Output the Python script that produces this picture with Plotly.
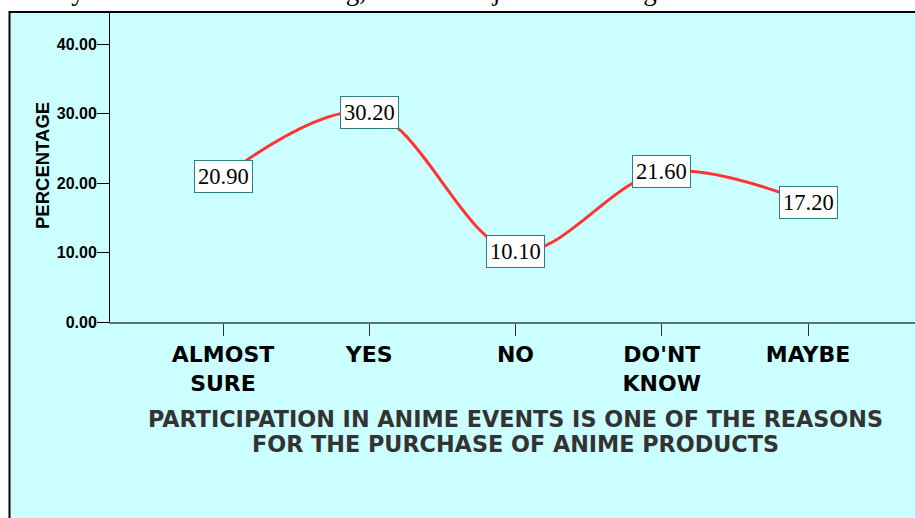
import plotly.graph_objects as go

categories = ["ALMOST<br>SURE", "YES", "NO", "DO'NT<br>KNOW", "MAYBE"]
percentages = [20.90, 30.20, 10.10, 21.60, 17.20]
y_ticks = [0, 10, 20, 30, 40]
x_title_lines = ["PARTICIPATION IN ANIME EVENTS IS ONE OF THE REASONS",
                 "FOR THE PURCHASE OF ANIME PRODUCTS"]
y_title = "PERCENTAGE"
top_text = "the way of the scores distributing, with the adjacent meanings."

W, H = 915, 518
L, R, T, B = 110, 0, 13, 196
pw, ph = W - L - R, H - T - B

def px_x(p):
    return (p - L) / pw

def px_y(p):
    return (H - B - p) / ph

xs = list(range(len(categories)))
BOLD_WIDE = "DejaVu Sans, Verdana, sans-serif"

fig = go.Figure()
fig.add_trace(go.Scatter(
    x=xs, y=percentages, mode="lines",
    line=dict(color="#ff3333", width=3, shape="spline", smoothing=1.0),
    hoverinfo="skip", showlegend=False,
))

for x, v in zip(xs, percentages):
    fig.add_annotation(
        x=x, y=v, xref="x", yref="y", text=f"{v:.2f}", showarrow=False,
        font=dict(family="Liberation Serif, Times New Roman, serif", size=22.5, color="black"),
        bgcolor="white", bordercolor="#2b7f7f", borderwidth=1, borderpad=3,
        xanchor="center", yanchor="middle",
    )

# axis title (x), two lines
for i, line in enumerate(x_title_lines):
    fig.add_annotation(
        x=2, y=px_y(419 + 24.5 * i), xref="x", yref="paper", text=f"<b>{line}</b>", showarrow=False,
        font=dict(family=BOLD_WIDE, size=22.3, color="#333333"),
        xanchor="center", yanchor="middle", align="center",
    )
# axis title (y)
fig.add_annotation(
    x=px_x(42), y=px_y(166), xref="paper", yref="paper", text=f"<b>{y_title}</b>", showarrow=False,
    textangle=-90,
    font=dict(family="Liberation Sans, Arial, sans-serif", size=18.5, color="black"),
    xanchor="center", yanchor="middle",
)
# cut-off text at top
fig.add_annotation(
    x=px_x(-2), y=px_y(8), xref="paper", yref="paper", text=top_text, showarrow=False,
    font=dict(family="Liberation Serif, Times New Roman, serif", size=27, color="black"),
    xanchor="left", yanchor="bottom",
)

# outer frame
fig.add_shape(
    type="rect", xref="paper", yref="paper",
    x0=px_x(9.5), x1=px_x(960), y0=px_y(560), y1=px_y(12),
    fillcolor="#ccffff", line=dict(color="black", width=2), layer="below",
)

step = 146.25
fig.update_xaxes(
    range=[-(223 - L) / step, 4 + (915 - 808) / step],
    tickvals=xs, ticktext=[f"<b>{c}</b>" for c in categories],
    tickfont=dict(family=BOLD_WIDE, size=22, color="black"),
    ticks="outside", ticklen=12, tickcolor="#333333", tickwidth=1,
    showline=True, linecolor="#557575", linewidth=2,
    showgrid=False, zeroline=False, fixedrange=True,
)
fig.update_yaxes(
    range=[0, 40 + (44 - 13) / 6.95],
    tickvals=y_ticks, tickformat=".2f",
    tickfont=dict(family="Liberation Sans, Arial, sans-serif", size=16, color="black", weight="bold"),
    ticks="outside", ticklen=12, tickcolor="black", tickwidth=1, ticklabelstandoff=-3,
    showline=True, linecolor="black", linewidth=1,
    showgrid=False, zeroline=False, fixedrange=True,
)

fig.update_layout(
    width=W, height=H,
    margin=dict(l=L, r=R, t=T, b=B, pad=0),
    paper_bgcolor="white", plot_bgcolor="rgba(0,0,0,0)",
    showlegend=False,
)

fig.write_html("out.html", config={"displayModeBar": False},
               post_script="document.body.style.margin='0';document.body.style.overflow='hidden';")
